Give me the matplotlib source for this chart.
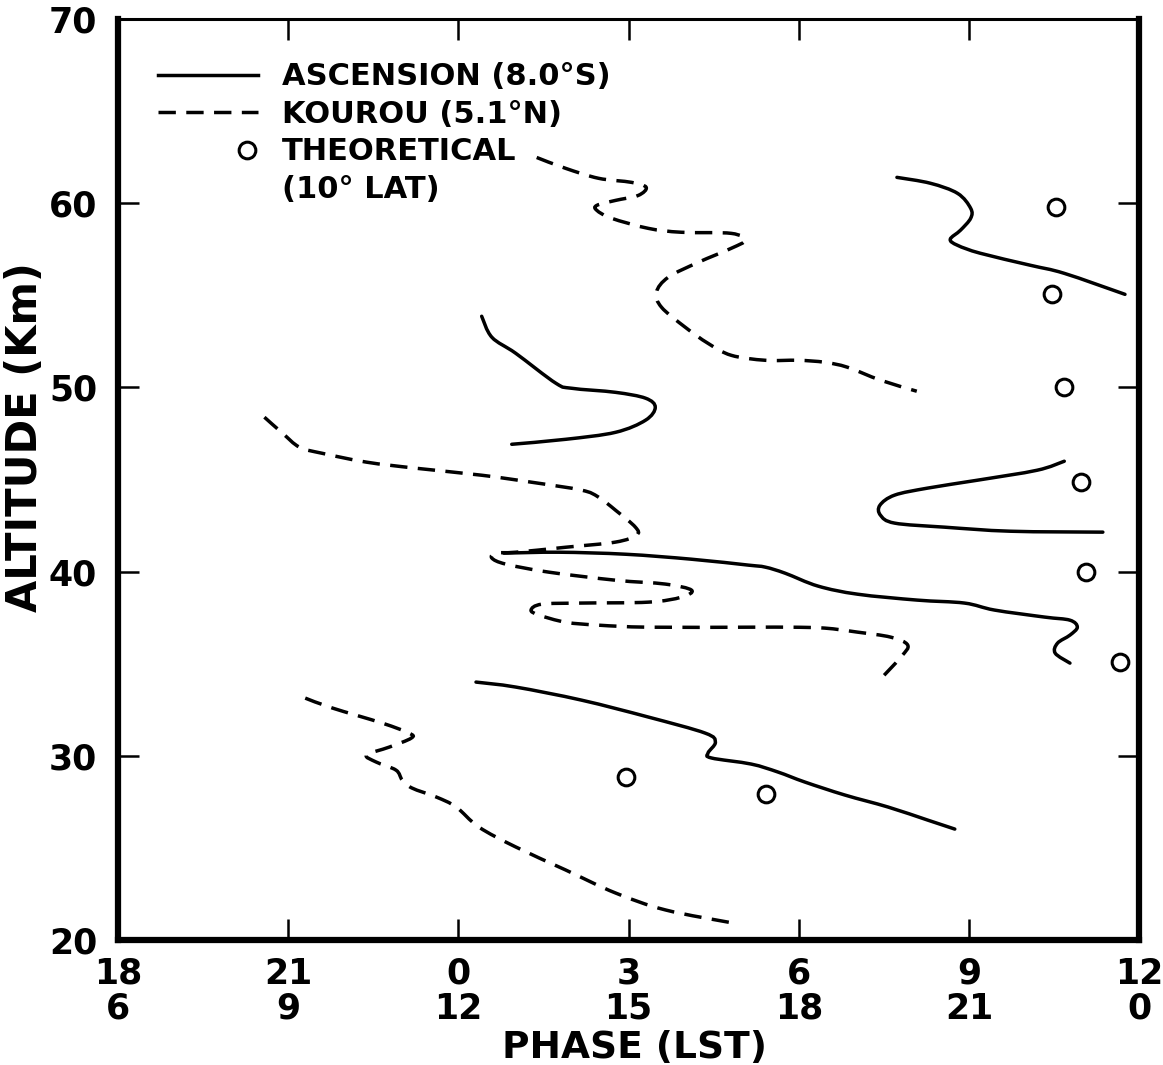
import matplotlib
matplotlib.use("Agg")
import matplotlib.pyplot as plt
import numpy as np
from matplotlib.lines import Line2D
from matplotlib.path import Path
from matplotlib.patches import PathPatch
from matplotlib.legend_handler import HandlerLine2D

# phase in hours counted from the left edge (18 LST), altitude in km
# ---- Ascension (8.0 S) ----
asc1_h = [13.73, 14.32, 14.80, 15.03, 15.03, 14.85, 14.67, 14.80, 15.20, 16.08, 16.68, 17.75]
asc1_z = [61.40, 61.08, 60.53, 59.72, 59.18, 58.53, 58.04, 57.71, 57.28, 56.63, 56.19, 55.05]

asc2_h = [6.41, 6.59, 7.01, 7.72, 8.00, 8.77, 9.30, 9.47, 9.30, 8.77, 7.89, 6.94]
asc2_z = [53.86, 52.72, 51.85, 50.22, 49.95, 49.73, 49.41, 48.92, 48.22, 47.56, 47.18, 46.91]

asc3_h = [16.68, 16.20, 15.15, 14.27, 13.69, 13.43, 13.44, 13.69, 14.57, 15.73, 17.36]
asc3_z = [45.99, 45.50, 44.96, 44.53, 44.15, 43.60, 43.06, 42.63, 42.41, 42.19, 42.14]

asc4_h = [6.80, 7.77, 8.95, 10.11, 11.11, 11.41, 11.76, 12.34, 13.04, 14.09, 14.92, 15.45,
          16.33, 16.78, 16.91, 16.78, 16.56, 16.52, 16.78]
asc4_z = [41.00, 41.05, 40.94, 40.67, 40.35, 40.24, 39.91, 39.21, 38.77, 38.45, 38.29, 37.91,
          37.53, 37.36, 36.98, 36.55, 36.11, 35.57, 35.03]

asc5_h = [6.31, 7.01, 8.17, 9.35, 10.35, 10.53, 10.40, 10.46, 11.16, 11.63, 12.11, 12.81,
          13.57, 14.27, 14.75]
asc5_z = [34.00, 33.73, 33.02, 32.10, 31.23, 30.74, 30.15, 29.88, 29.55, 29.12, 28.57, 27.87,
          27.22, 26.51, 26.02]

# ---- Kourou (5.1 N) ----
kou1_h = [7.38, 7.89, 8.47, 9.05, 9.31, 9.17, 8.77, 8.44, 8.44, 8.70, 9.35, 9.93, 10.81,
          11.05, 10.81, 10.23, 9.70, 9.49, 9.58, 10.00, 10.40, 10.81, 11.41, 11.99, 12.46,
          12.86, 13.44, 14.08]
kou1_z = [62.48, 61.89, 61.35, 61.13, 60.86, 60.42, 60.15, 59.88, 59.61, 59.18, 58.63, 58.42,
          58.36, 57.98, 57.55, 56.79, 55.98, 55.16, 54.35, 53.26, 52.39, 51.74, 51.47, 51.47,
          51.36, 51.09, 50.39, 49.79]

kou2_h = [2.58, 2.90, 3.20, 3.60, 4.38, 5.25, 6.41, 7.29, 8.17, 8.47, 8.77, 9.12, 9.14,
          8.77, 7.89, 7.01, 6.66, 6.59, 6.84, 7.59, 8.77, 9.65, 10.11, 9.93, 9.35, 8.17,
          7.47, 7.28, 7.42, 7.89, 8.47, 9.35, 11.11, 11.86, 12.46, 13.04, 13.62, 13.92,
          13.80, 13.39]
kou2_z = [48.38, 47.51, 46.75, 46.42, 45.94, 45.61, 45.23, 44.85, 44.42, 44.04, 43.33, 42.41,
          41.98, 41.60, 41.32, 41.05, 41.00, 40.73, 40.40, 39.97, 39.53, 39.32, 38.99, 38.61,
          38.34, 38.29, 38.23, 37.91, 37.64, 37.25, 37.09, 36.98, 36.98, 36.98, 36.93, 36.71,
          36.44, 36.01, 35.36, 34.00]

kou3_h = [3.30, 3.78, 4.66, 5.13, 5.17, 4.78, 4.38, 4.55, 4.90, 5.01, 5.18, 5.61, 5.96,
          6.36, 7.01, 7.89, 8.77, 9.65, 10.84]
kou3_z = [33.13, 32.59, 31.77, 31.23, 30.96, 30.47, 30.04, 29.66, 29.22, 28.68, 28.25, 27.76,
          27.22, 26.13, 25.05, 23.80, 22.55, 21.63, 20.92]

# ---- theoretical (10 deg lat) ----
theo_h = [16.54, 16.47, 16.68, 16.98, 17.07, 17.66, 8.95, 11.42]
theo_z = [59.77, 55.05, 50.00, 44.85, 39.97, 35.08, 28.84, 27.92]

x_ticks = [0, 3, 6, 9, 12, 15, 18]
x_labels = ["18\n6", "21\n9", "0\n12", "3\n15", "6\n18", "9\n21", "12\n0"]
y_ticks = [20, 30, 40, 50, 60, 70]

#--------------------
plt.rcParams['font.family'] = ['DejaVu Sans']

LW = 2.5
DASH = (0, (5, 3))


def smooth_path(h, z):
    # cubic bezier through the read points (catmull-rom tangents)
    p = np.column_stack([h, z])
    n = len(p)
    verts = [p[0]]
    codes = [Path.MOVETO]
    for i in range(n - 1):
        p0 = p[i - 1] if i > 0 else p[i]
        p3 = p[i + 2] if i + 2 < n else p[i + 1]
        c1 = p[i] + (p[i + 1] - p0) / 6.0
        c2 = p[i + 1] - (p3 - p[i]) / 6.0
        verts += [c1, c2, p[i + 1]]
        codes += [Path.CURVE4] * 3
    return Path(verts, codes)


class RightMarker(HandlerLine2D):
    # legend circle sits at the right end of the handle, like the original
    def create_artists(self, legend, orig_handle, xdescent, ydescent, width, height, fontsize, trans):
        mark = Line2D([0.89 * width - xdescent], [(height - ydescent) / 2])
        self.update_prop(mark, orig_handle, legend)
        mark.set_transform(trans)
        return [mark]


fig = plt.figure(figsize=(11.63, 10.65), dpi=100)
ax = fig.add_axes([0.1015, 0.1174, 0.878, 0.8648])

for h, z in [(asc1_h, asc1_z), (asc2_h, asc2_z), (asc3_h, asc3_z), (asc4_h, asc4_z), (asc5_h, asc5_z)]:
    ax.add_patch(PathPatch(smooth_path(h, z), fill=False, edgecolor='black', lw=LW,
                           capstyle='round', joinstyle='round'))
for h, z in [(kou1_h, kou1_z), (kou2_h, kou2_z), (kou3_h, kou3_z)]:
    ax.add_patch(PathPatch(smooth_path(h, z), fill=False, edgecolor='black', lw=LW,
                           linestyle=DASH, capstyle='butt', joinstyle='round'))
ax.plot(theo_h, theo_z, linestyle='none', marker='o', ms=12, mfc='white', mec='black', mew=2.2)

ax.set_xlim(0, 18)
ax.set_ylim(20, 70)
ax.set_xticks(x_ticks)
ax.set_xticklabels(x_labels, fontsize=25, fontweight='bold', linespacing=1.05)
ax.set_yticks(y_ticks)
ax.set_yticklabels([str(v) for v in y_ticks], fontsize=25, fontweight='bold')
ax.tick_params(axis='both', direction='in', length=15, width=1.8, top=True, right=True)
ax.tick_params(axis='x', pad=12)
ax.tick_params(axis='y', pad=15)

for s in ['left', 'bottom', 'right']:
    ax.spines[s].set_linewidth(4.5)
ax.spines['top'].set_linewidth(2.2)

ax.set_xlabel("PHASE (LST)", fontsize=27, fontweight='bold')
ax.xaxis.set_label_coords(0.506, -0.098)
ax.set_ylabel("ALTITUDE (Km)", fontsize=30, fontweight='bold')
ax.yaxis.set_label_coords(-0.071, 0.546)

handles = [
    Line2D([], [], color='black', lw=LW),
    Line2D([], [], color='black', lw=LW, linestyle=DASH),
    Line2D([], [], linestyle='none', marker='o', ms=12, mfc='white', mec='black', mew=2.2),
    Line2D([], [], linestyle='none'),
]
labels = ["ASCENSION (8.0°S)", "KOUROU (5.1°N)", "THEORETICAL", "(10° LAT)"]
ax.legend(handles, labels, loc='upper left', bbox_to_anchor=(0.039, 0.953), frameon=False,
          borderaxespad=0, borderpad=0, handlelength=3.27, handletextpad=0.8,
          labelspacing=0.28, prop={'size': 22, 'weight': 'bold'},
          handler_map={handles[2]: RightMarker()})

fig.savefig("out.png", dpi=100)
